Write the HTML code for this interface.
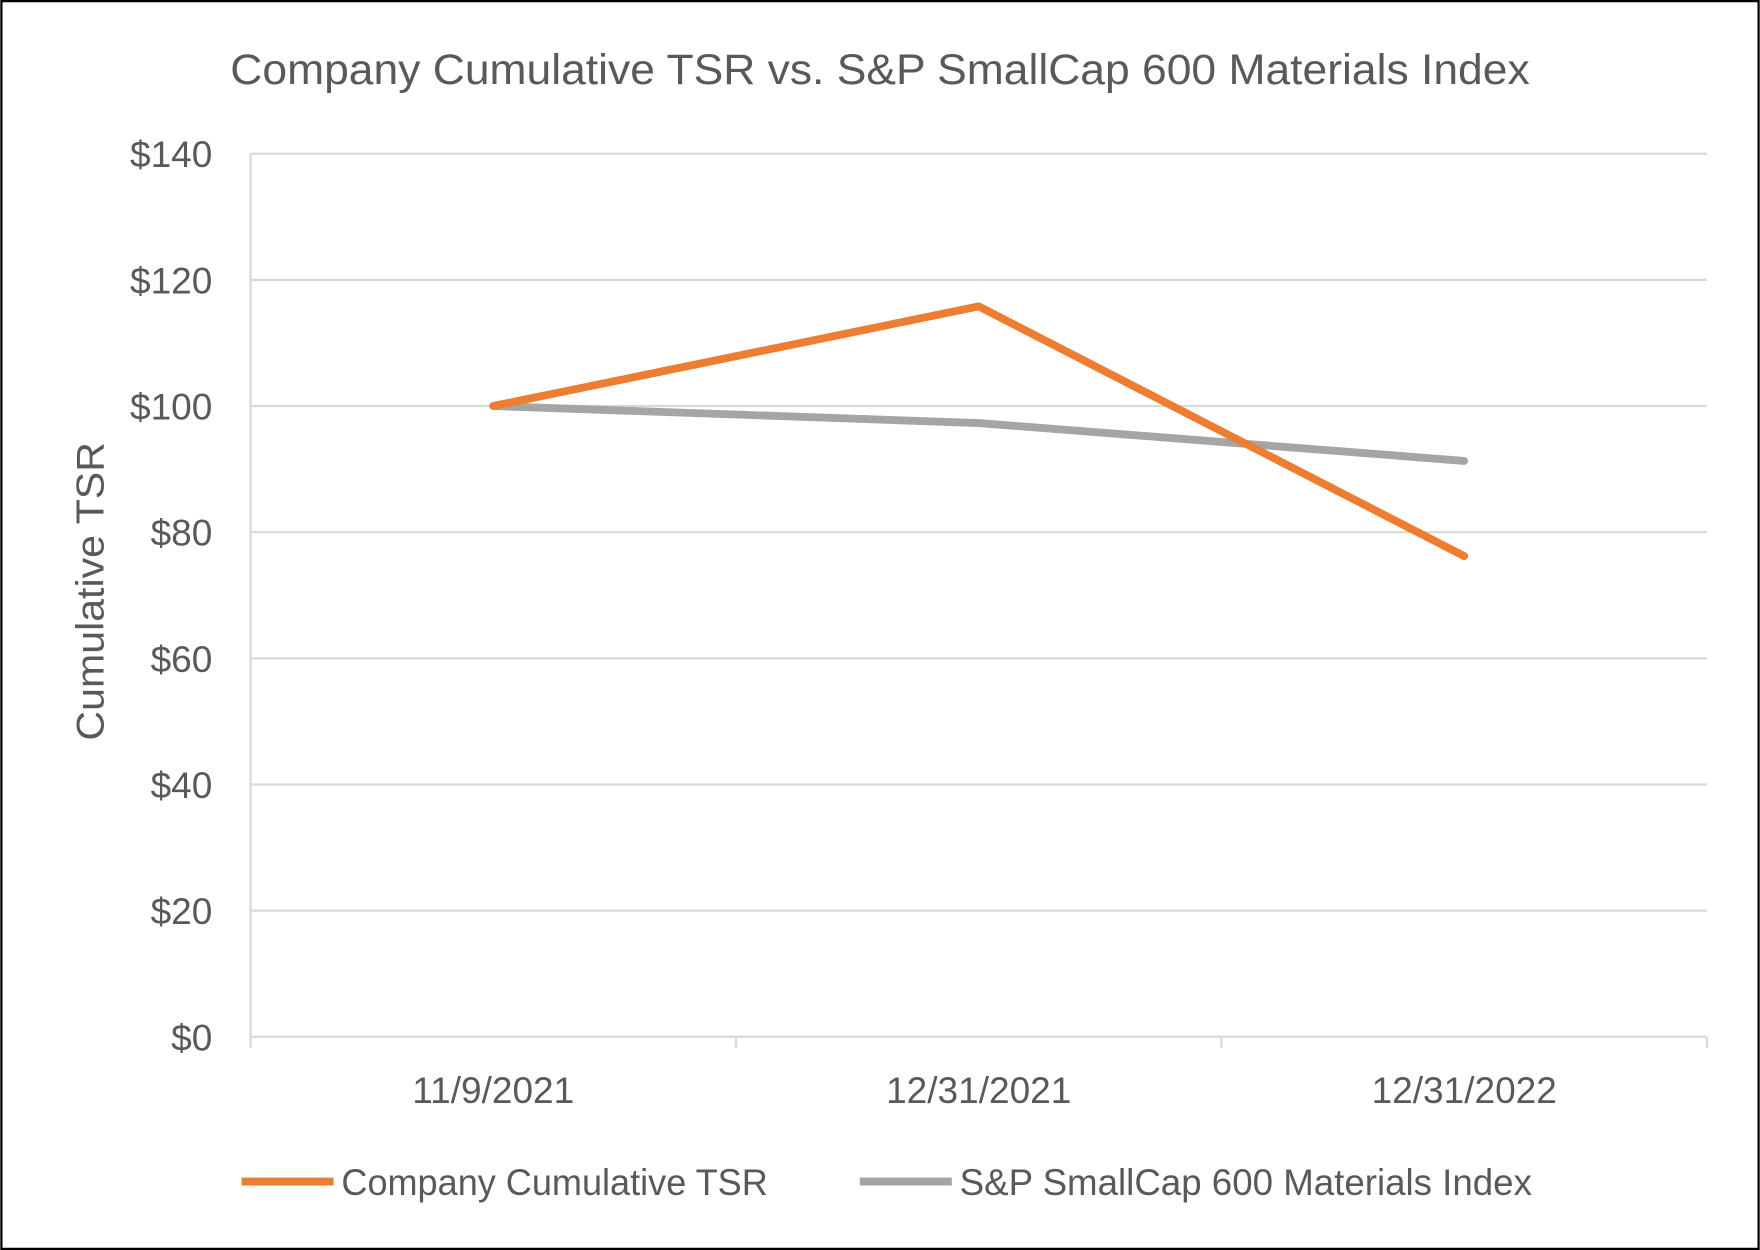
<!DOCTYPE html>
<html><head><meta charset="utf-8"><style>
html,body{margin:0;padding:0;background:#fff}
svg{display:block}
text{font-family:"Liberation Sans",sans-serif;fill:#595959}
</style></head><body>
<svg id="chart" width="1760" height="1250" viewBox="0 0 1568 1114" xmlns="http://www.w3.org/2000/svg">
<rect x="1" y="1" width="1566" height="1112" fill="#fff" stroke="#000" stroke-width="2"/>
<text x="784" y="75" text-anchor="middle" font-size="38" textLength="1158" lengthAdjust="spacingAndGlyphs">Company Cumulative TSR vs. S&amp;P SmallCap 600 Materials Index</text>
<text transform="translate(92,527) rotate(-90)" text-anchor="middle" font-size="35" textLength="266" lengthAdjust="spacingAndGlyphs">Cumulative TSR</text>
<g id="grid"></g>
<g id="axes"></g>
<g id="series"></g>
<g>
<line x1="215" y1="1053" x2="297" y2="1053" stroke="#ED7D31" stroke-width="7"/>
<text x="304" y="1065" font-size="33" textLength="380" lengthAdjust="spacingAndGlyphs">Company Cumulative TSR</text>
<line x1="766" y1="1053" x2="848" y2="1053" stroke="#A5A5A5" stroke-width="7"/>
<text x="855" y="1065" font-size="33" textLength="510" lengthAdjust="spacingAndGlyphs">S&amp;P SmallCap 600 Materials Index</text>
</g>
</svg>
<script>
const categories = ["11/9/2021","12/31/2021","12/31/2022"];
const companyValues = [100, 115.8, 76.2];
const indexValues = [100, 97.3, 91.3];
const yTicks = [0,20,40,60,80,100,120,140];
const yTickLabels = ["$0","$20","$40","$60","$80","$100","$120","$140"];

const NS="http://www.w3.org/2000/svg";
const L=223,R=1521,T=137,B=924,yMax=140;
const band=(R-L)/categories.length;
function xPos(i){return L+band*(i+0.5);}
function yPos(v){return B-(v/yMax)*(B-T);}
function mk(tag,attrs,parent){const e=document.createElementNS(NS,tag);for(const k in attrs)e.setAttribute(k,attrs[k]);parent.appendChild(e);return e;}
const grid=document.getElementById('grid'),axes=document.getElementById('axes'),series=document.getElementById('series');
yTicks.forEach((v,i)=>{
  const y=yPos(v);
  if(v>0){const g=mk('line',{x1:L,x2:R,y1:y,y2:y,stroke:'#D9D9D9','stroke-width':2},grid);
  
  }
  const t=mk('text',{x:189,y:y+12,'text-anchor':'end','font-size':33},axes);
  t.textContent=yTickLabels[i];
  
  
});
const ax=mk('line',{x1:L,x2:R,y1:B,y2:B,stroke:'#D9D9D9','stroke-width':2},axes);


const ay=mk('line',{x1:L,x2:L,y1:T,y2:B,stroke:'#D9D9D9','stroke-width':2},axes);


for(let i=0;i<=categories.length;i++){
  const x=L+band*i;
  const tk=mk('line',{x1:x,x2:x,y1:B,y2:B+10,stroke:'#D9D9D9','stroke-width':2},axes);
  
  
}
categories.forEach((c,i)=>{
  const t=mk('text',{x:xPos(i),y:983,'text-anchor':'middle','font-size':33},axes);
  t.textContent=c;
  
  
});
function drawLine(vals,color,name){
  const pts=vals.map((v,i)=>xPos(i)+','+yPos(v)).join(' ');
  const p=mk('polyline',{points:pts,fill:'none',stroke:color,'stroke-width':7,'stroke-linejoin':'round','stroke-linecap':'round'},series);
  
  
}
drawLine(indexValues,'#A5A5A5','index-line');
drawLine(companyValues,'#ED7D31','company-line');
</script>
</body></html>
